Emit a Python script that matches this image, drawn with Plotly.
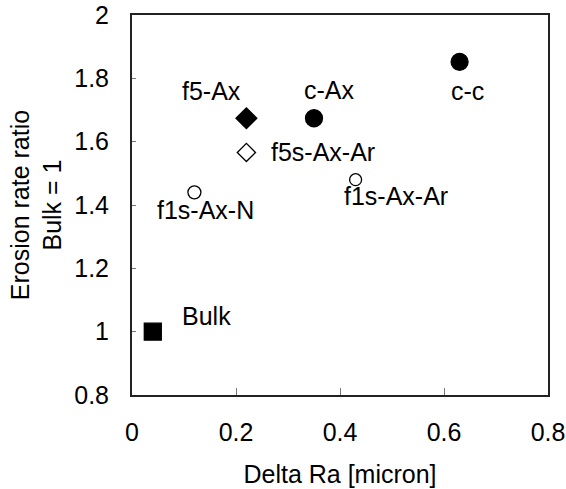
import plotly.graph_objects as go

# ---- data ----
labels = ["Bulk", "f1s-Ax-N", "f5-Ax", "f5s-Ax-Ar", "c-Ax", "f1s-Ax-Ar", "c-c"]
delta_ra = [0.04, 0.12, 0.22, 0.22, 0.35, 0.43, 0.63]
erosion_ratio = [1.00, 1.44, 1.674, 1.566, 1.674, 1.48, 1.852]
x_ticks = [0, 0.2, 0.4, 0.6, 0.8]
y_ticks = [0.8, 1.0, 1.2, 1.4, 1.6, 1.8, 2.0]
x_tick_text = ["0", "0.2", "0.4", "0.6", "0.8"]
y_tick_text = ["0.8", "1", "1.2", "1.4", "1.6", "1.8", "2"]

# ---- styles (marker per sample, label offsets in px) ----
style = {
    "Bulk":      dict(symbol="square", size=17, fill="black", shift=(54, 16)),
    "f1s-Ax-N":  dict(symbol="circle-open", size=13, fill="black", shift=(11, -18)),
    "f5-Ax":     dict(symbol="diamond", size=16, fill="black", shift=(-35, 27)),
    "f5s-Ax-Ar": dict(symbol="diamond-open", size=14, fill="black", shift=(77, 0)),
    "c-Ax":      dict(symbol="circle", size=17, fill="black", shift=(15, 28)),
    "f1s-Ax-Ar": dict(symbol="circle-open", size=12, fill="black", shift=(40, -16)),
    "c-c":       dict(symbol="circle", size=17, fill="black", shift=(8, -29)),
}

FONT = "Liberation Sans, Arial, sans-serif"
FS = 25

fig = go.Figure()
for lab, xv, yv in zip(labels, delta_ra, erosion_ratio):
    s = style[lab]
    fig.add_trace(go.Scatter(
        x=[xv], y=[yv], mode="markers", name=lab, showlegend=False,
        marker=dict(symbol=s["symbol"], size=s["size"], color=s["fill"],
                    line=dict(color="black", width=1.3)),
    ))
    fig.add_annotation(x=xv, y=yv, text=lab, showarrow=False,
                       xshift=s["shift"][0], yshift=s["shift"][1],
                       xanchor="center", yanchor="middle",
                       font=dict(family=FONT, size=FS, color="black"))

axis_common = dict(
    showline=True, linecolor="#222", linewidth=2, mirror=True,
    ticks="inside", tickcolor="#777", tickwidth=1,
    showgrid=False, zeroline=False, automargin=False,
    tickfont=dict(family=FONT, size=FS, color="black"),
)

fig.update_xaxes(range=[0, 0.8], tickvals=x_ticks, ticktext=x_tick_text,
                 ticklen=7, ticklabelstandoff=14,
                 title=dict(text="Delta Ra [micron]", standoff=20,
                            font=dict(family=FONT, size=FS, color="black")),
                 **axis_common)
fig.update_yaxes(range=[0.8, 2.0], tickvals=y_ticks, ticktext=y_tick_text,
                 ticklen=4, ticklabelstandoff=16,
                 title=dict(text="Erosion rate ratio<br>Bulk = 1", standoff=5,
                            font=dict(family=FONT, size=FS, color="black")),
                 **axis_common)

fig.update_layout(
    width=566, height=489,
    margin=dict(l=132, r=18, t=15, b=94),
    plot_bgcolor="white", paper_bgcolor="white",
    font=dict(family=FONT, size=FS, color="black"),
)

fig.write_html("out.html")
